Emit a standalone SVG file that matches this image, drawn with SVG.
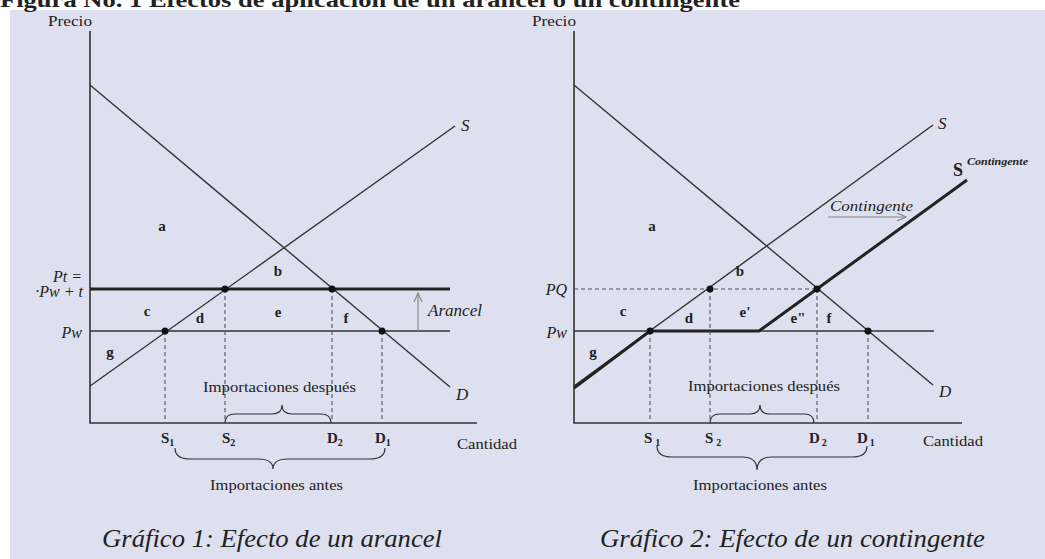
<svg xmlns="http://www.w3.org/2000/svg" width="1045" height="559" viewBox="0 0 1045 559">
<defs>
<style>
.t{font-family:"Liberation Serif","Times New Roman",serif;fill:#222;}
.it{font-style:italic;}
.ax{stroke:#333;stroke-width:1.6;fill:none;}
.ln{stroke:#333;stroke-width:1.4;fill:none;}
.thick{stroke:#222;stroke-width:3;fill:none;}
.dash{stroke:#555;stroke-width:1.1;stroke-dasharray:4,3;fill:none;}
.br{stroke:#333;stroke-width:1.2;fill:none;}
.gar{stroke:#888;stroke-width:1.2;fill:none;}
.dot{fill:#111;}
.lbl{font-size:15px;}
.ltr{font-size:15px;font-weight:bold;text-anchor:middle;}
.sub{font-size:10px;}
.cap{font-size:26px;font-style:italic;}
</style>
<marker id="oa" viewBox="0 0 10 10" refX="9" refY="5" markerWidth="10" markerHeight="10" markerUnits="userSpaceOnUse" orient="auto">
<path d="M0,1 L9,5 L0,9" fill="none" stroke="#888" stroke-width="1.2"/>
</marker>
</defs>
<rect x="0" y="0" width="1045" height="559" fill="#ffffff"/>
<rect x="10" y="10" width="1035" height="549" fill="#dfe0ef"/>
<text id="title" class="t" x="0" y="7" font-size="21" font-weight="bold" fill="#000" textLength="740" lengthAdjust="spacingAndGlyphs">Figura No. 1 Efectos de aplicación de un arancel o un contingente</text>

<g id="connectors">
<!-- Chart 1 -->
<path class="ax" d="M90,31 L90,423 L477,423"/>
<path class="ln" d="M90,85 L450,387"/>
<path class="ln" d="M90,386 L455,126"/>
<path class="thick" d="M90,289 L450,289"/>
<path class="ln" d="M90,331 L450,331"/>
<path class="gar" d="M418,331 L418,293" marker-end="url(#oa)"/>
<path class="dash" d="M165,331 V423 M225,289 V423 M332,289 V423 M382,331 V423"/>
<path class="br" d="M225,423 Q225,414 235,414 L272,414 Q282,414 282,405 Q282,414 292,414 L321,414 Q331,414 331,423"/>
<path class="br" d="M175,448 Q175,459 190,459 L258,459 Q273,459 273,469 Q273,459 288,459 L370,459 Q385,459 385,448"/>
<!-- Chart 2 -->
<path class="ax" d="M574,31 L574,423 L962,423"/>
<path class="ln" d="M574,85 L933,385"/>
<path class="ln" d="M574,386 L933,125"/>
<path class="dash" d="M574,289 L817,289"/>
<path class="ln" d="M574,331 L934,331"/>
<path class="thick" d="M574,388 L650,331 L759,331 L967,180"/>
<path class="gar" d="M828,217 L906,217" marker-end="url(#oa)"/>
<path class="dash" d="M650,331 V423 M710,289 V423 M817,289 V423 M868,331 V423"/>
<path class="br" d="M710,423 Q710,414 720,414 L750,414 Q760,414 760,405 Q760,414 770,414 L804,414 Q814,414 814,423"/>
<path class="br" d="M657,446 Q657,457 672,457 L742,457 Q757,457 757,470 Q757,457 772,457 L852,457 Q867,457 867,446"/>
</g>

<g id="chart1">
<text class="t lbl" x="48" y="26" textLength="44" lengthAdjust="spacingAndGlyphs">Precio</text>
<circle class="dot" cx="165" cy="331" r="3.5"/>
<circle class="dot" cx="225" cy="289" r="3.5"/>
<circle class="dot" cx="332" cy="289" r="3.5"/>
<circle class="dot" cx="382" cy="331" r="3.5"/>
<text class="t it" x="461" y="131" font-size="17">S</text>
<text class="t it" x="456" y="400" font-size="17">D</text>
<text class="t ltr" x="162" y="231">a</text>
<text class="t ltr" x="278" y="276">b</text>
<text class="t ltr" x="147" y="316">c</text>
<text class="t ltr" x="200" y="323">d</text>
<text class="t ltr" x="278" y="317">e</text>
<text class="t ltr" x="346" y="323">f</text>
<text class="t ltr" x="110" y="357">g</text>
<text class="t it" x="82" y="282" font-size="16" text-anchor="end">Pt =</text>
<text class="t it" x="83" y="297" font-size="16" text-anchor="end">·Pw + t</text>
<text class="t it" x="82" y="338" font-size="16" text-anchor="end">Pw</text>
<text class="t it" x="428" y="316" font-size="16" textLength="54" lengthAdjust="spacingAndGlyphs">Arancel</text>
<text class="t lbl" x="161" y="443" font-weight="bold">S<tspan class="sub" dy="3">1</tspan></text>
<text class="t lbl" x="222" y="443" font-weight="bold">S<tspan class="sub" dy="3">2</tspan></text>
<text class="t lbl" x="327" y="443" font-weight="bold">D<tspan class="sub" dy="3">2</tspan></text>
<text class="t lbl" x="375" y="443" font-weight="bold">D<tspan class="sub" dy="3">1</tspan></text>
<text class="t lbl" x="457" y="449" textLength="60" lengthAdjust="spacingAndGlyphs">Cantidad</text>
<text class="t lbl" x="203" y="392" textLength="153" lengthAdjust="spacingAndGlyphs">Importaciones después</text>
<text class="t lbl" x="210" y="490" textLength="133" lengthAdjust="spacingAndGlyphs">Importaciones antes</text>
<text class="t cap" x="102" y="547" textLength="340" lengthAdjust="spacingAndGlyphs">Gráfico 1: Efecto de un arancel</text>
</g>

<g id="chart2">
<text class="t lbl" x="532" y="26" textLength="44" lengthAdjust="spacingAndGlyphs">Precio</text>
<circle class="dot" cx="650" cy="331" r="3.5"/>
<circle class="dot" cx="710" cy="289" r="3.5"/>
<circle class="dot" cx="817" cy="289" r="3.5"/>
<circle class="dot" cx="868" cy="331" r="3.5"/>
<text class="t it" x="938" y="129" font-size="17">S</text>
<text class="t it" x="939" y="397" font-size="17">D</text>
<text class="t" x="953" y="176" font-size="18" font-weight="bold">S</text>
<text class="t it" x="967" y="165" font-size="10" font-weight="bold" textLength="61" lengthAdjust="spacingAndGlyphs">Contingente</text>
<text class="t it" x="830" y="211" font-size="15" textLength="83" lengthAdjust="spacingAndGlyphs">Contingente</text>
<text class="t ltr" x="652" y="231">a</text>
<text class="t ltr" x="740" y="276">b</text>
<text class="t ltr" x="623" y="316">c</text>
<text class="t ltr" x="689" y="323">d</text>
<text class="t ltr" x="745" y="317">e'</text>
<text class="t ltr" x="798" y="323">e"</text>
<text class="t ltr" x="829" y="323">f</text>
<text class="t ltr" x="593" y="357">g</text>
<text class="t it" x="567" y="295" font-size="16" text-anchor="end">PQ</text>
<text class="t it" x="567" y="338" font-size="16" text-anchor="end">Pw</text>
<text class="t lbl" x="644" y="443" font-weight="bold">S<tspan class="sub" dx="3" dy="3">1</tspan></text>
<text class="t lbl" x="705" y="443" font-weight="bold">S<tspan class="sub" dx="3" dy="3">2</tspan></text>
<text class="t lbl" x="809" y="443" font-weight="bold">D<tspan class="sub" dx="2" dy="3">2</tspan></text>
<text class="t lbl" x="857" y="443" font-weight="bold">D<tspan class="sub" dx="2" dy="3">1</tspan></text>
<text class="t lbl" x="923" y="446" textLength="60" lengthAdjust="spacingAndGlyphs">Cantidad</text>
<text class="t lbl" x="688" y="391" textLength="152" lengthAdjust="spacingAndGlyphs">Importaciones después</text>
<text class="t lbl" x="693" y="490" textLength="134" lengthAdjust="spacingAndGlyphs">Importaciones antes</text>
<text class="t cap" x="600" y="547" textLength="385" lengthAdjust="spacingAndGlyphs">Gráfico 2: Efecto de un contingente</text>
</g>
</svg>
